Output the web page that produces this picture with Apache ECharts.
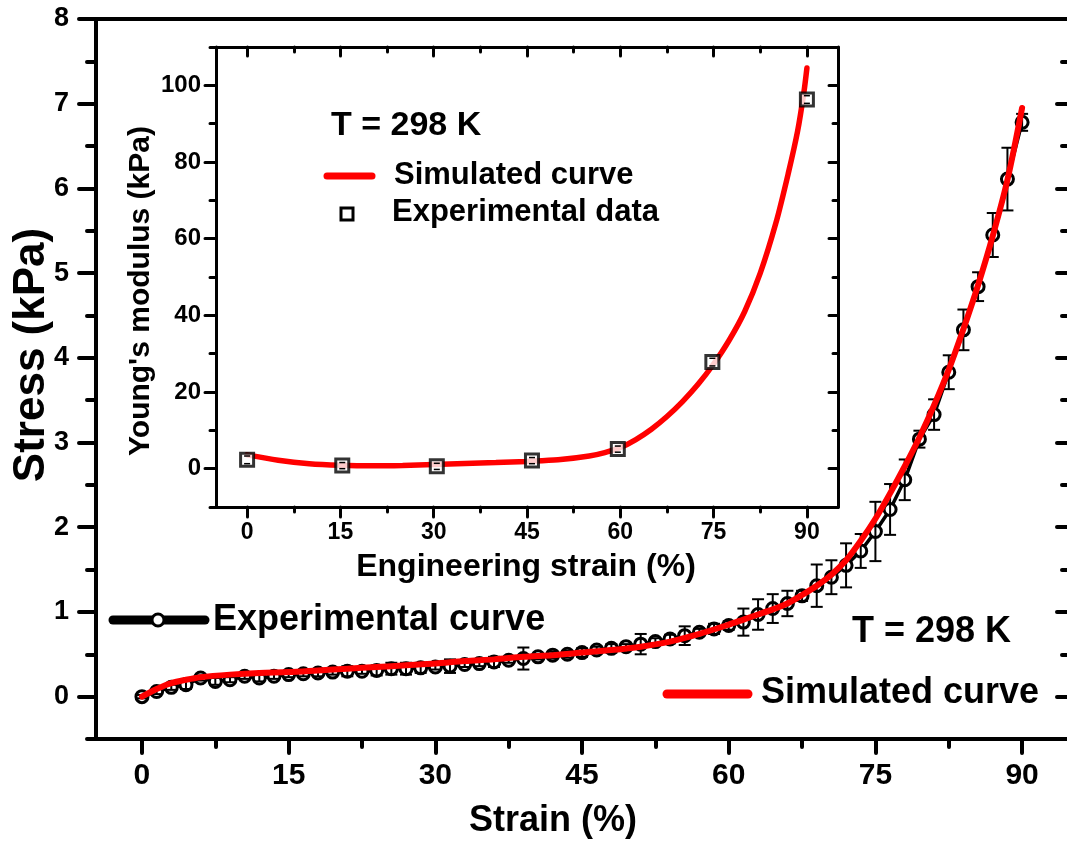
<!DOCTYPE html>
<html>
<head>
<meta charset="utf-8">
<script src="https://cdn.jsdelivr.net/npm/echarts@6/dist/echarts.min.js"></script>
<style>
html,body{margin:0;padding:0;background:#fff;}
#chart{width:1067px;height:843px;}
</style>
</head>
<body>
<div id="chart"></div>
<script>
// ---------- data ----------
// main plot: experimental stress-strain curve
const expStrain = [0,1.5,3,4.5,6,7.5,9,10.5,12,13.5,15,16.5,18,19.5,21,22.5,24,25.5,27,28.5,30,31.5,33,34.5,36,37.5,39,40.5,42,43.5,45,46.5,48,49.5,51,52.5,54,55.5,57,58.5,60,61.5,63,64.5,66,67.5,69,70.5,72,73.5,75,76.5,78,79.5,81,82.5,84,85.5,87,88.5,90];
const expStress = [0.00,0.06,0.11,0.14,0.22,0.18,0.20,0.24,0.22,0.24,0.26,0.27,0.28,0.29,0.30,0.30,0.31,0.33,0.33,0.34,0.35,0.36,0.38,0.39,0.41,0.43,0.45,0.47,0.49,0.50,0.52,0.55,0.57,0.59,0.62,0.65,0.68,0.72,0.76,0.80,0.84,0.88,0.97,1.04,1.10,1.19,1.31,1.41,1.55,1.72,1.95,2.21,2.56,3.04,3.33,3.83,4.33,4.84,5.45,6.11,6.78];
const expError = [0.02,0.03,0.03,0.05,0.03,0.04,0.03,0.03,0.04,0.03,0.03,0.03,0.04,0.03,0.06,0.03,0.06,0.07,0.07,0.06,0.03,0.08,0.03,0.03,0.06,0.03,0.13,0.03,0.04,0.04,0.05,0.04,0.05,0.03,0.12,0.04,0.05,0.11,0.04,0.06,0.05,0.16,0.18,0.17,0.15,0.06,0.25,0.20,0.26,0.20,0.35,0.30,0.24,0.10,0.18,0.20,0.24,0.17,0.26,0.37,0.10];
// main plot: simulated curve
const simStrain = [0,1.5,3,4.5,6,9,12,15,18,21,24,27,30,33,36,39,42,45,48,51,54,57,60,61.5,63,64.5,66,67.5,69,70.5,72,73.5,75,76.5,78,79.5,81,82.5,84,85.5,87,88.5,90];
const simStress = [0,0.09,0.16,0.20,0.23,0.26,0.28,0.29,0.31,0.33,0.35,0.37,0.39,0.42,0.44,0.47,0.49,0.52,0.55,0.59,0.65,0.74,0.85,0.91,0.97,1.03,1.10,1.20,1.31,1.44,1.61,1.84,2.10,2.40,2.72,3.06,3.44,3.86,4.34,4.86,5.44,6.10,6.95];
// inset: Young's modulus
const insetStrain = [0,15.3,30.5,45.8,59.6,74.8,90];
const insetModulus = [2.3,0.8,0.6,2.1,5.1,27.8,96.3];
const insetError = [1.0,0.8,0.8,0.8,0.8,1.0,1.0];
const insetSimStrain = [0,5,10,15,20,25,30,35,40,45,50,55,57.5,60,62.5,65,67.5,70,72.5,75,77.5,80,82.5,85,87,88.5,89.5,90];
const insetSimModulus = [3.6,2.2,1.3,0.9,0.75,0.85,1.1,1.35,1.6,1.9,2.3,3.3,4.2,5.5,7.6,10.3,13.6,17.5,22,27.3,33.5,41,51,64,77,88,98,104.5];
// tick values
const mainXTicks = [0,15,30,45,60,75,90];
const mainXMinor = [7.5,22.5,37.5,52.5,67.5,82.5];
const mainYTicks = [0,1,2,3,4,5,6,7,8];
const mainYMinor = [-0.5,0.5,1.5,2.5,3.5,4.5,5.5,6.5,7.5];
const insetXTicks = [0,15,30,45,60,75,90];
const insetXMinor = [7.5,22.5,37.5,52.5,67.5,82.5];
const insetYTicks = [0,20,40,60,80,100];
const insetYMinor = [-10,10,30,50,70,90,110];

// ---------- chart ----------
const FONT = '"Liberation Sans", Arial, Helvetica, sans-serif';
const chart = echarts.init(document.getElementById('chart'), null, {renderer:'canvas'});

function pairs(xs, ys){ return xs.map((x,i)=>[x, ys[i]]); }
function triples(xs, ys, es){ return xs.map((x,i)=>[x, ys[i], es[i]]); }

function errRender(hw, lw){
  return function(params, api){
    const x = api.value(0), y = api.value(1), e = api.value(2);
    const t = api.coord([x, y + e]);
    const b = api.coord([x, y - e]);
    const st = {stroke:'#000', lineWidth:lw, fill:null};
    return {type:'group', children:[
      {type:'line', shape:{x1:t[0], y1:t[1], x2:b[0], y2:b[1]}, style:st},
      {type:'line', shape:{x1:t[0]-hw, y1:t[1], x2:t[0]+hw, y2:t[1]}, style:st},
      {type:'line', shape:{x1:b[0]-hw, y1:b[1], x2:b[0]+hw, y2:b[1]}, style:st}
    ]};
  };
}
function capRender(hw, lw){
  return function(params, api){
    const x = api.value(0), y = api.value(1), e = api.value(2);
    const t = api.coord([x, y + e]);
    const b = api.coord([x, y - e]);
    const st = {stroke:'#000', lineWidth:lw, fill:null};
    return {type:'group', children:[
      {type:'line', shape:{x1:t[0]-hw, y1:t[1], x2:t[0]+hw, y2:t[1]}, style:st},
      {type:'line', shape:{x1:b[0]-hw, y1:b[1], x2:b[0]+hw, y2:b[1]}, style:st}
    ]};
  };
}

function valAxis(o){
  return {
    type:'value', min:o.min, max:o.max, gridIndex:o.grid, position:o.pos,
    splitLine:{show:false},
    axisLine:{show:!!o.line, onZero:false, lineStyle:{color:'#000', width:o.lw||4, cap:'round'}},
    axisTick:{show:!!o.ticks, inside:!!o.inside, length:o.len||10, customValues:o.ticks||[],
              lineStyle:{color:'#000', width:o.tw||3, cap:'round'}},
    axisLabel:{show:!!o.labels, customValues:o.labels||[], margin:o.margin||10,
               color:'#000', fontFamily:FONT, fontWeight:'bold', fontSize:o.fs||20},
    silent:true
  };
}

const grids = [
  {left:96, top:19, right:-4, bottom:104, outerBoundsMode:'none', containLabel:false},
  {left:216, top:47, right:229, bottom:336, outerBoundsMode:'none', containLabel:false}
];

const xAxes = [
  // main
  valAxis({grid:0,pos:'bottom',min:-4.7,max:95,line:true,lw:4,ticks:mainXTicks,len:14,tw:4,labels:mainXTicks,margin:22,fs:30}),
  valAxis({grid:0,pos:'bottom',min:-4.7,max:95,ticks:mainXMinor,len:8,tw:4}),
  valAxis({grid:0,pos:'top',min:-4.7,max:95,line:true,lw:4}),
  // inset
  valAxis({grid:1,pos:'bottom',min:-5,max:95,line:true,lw:3,ticks:insetXTicks,len:10,tw:3,labels:insetXTicks,margin:14,fs:23}),
  valAxis({grid:1,pos:'bottom',min:-5,max:95,ticks:insetXMinor,len:5,tw:3}),
  valAxis({grid:1,pos:'top',min:-5,max:95,line:true,lw:3,ticks:insetXTicks,inside:true,len:9,tw:3}),
  valAxis({grid:1,pos:'top',min:-5,max:95,ticks:insetXMinor,inside:true,len:5,tw:3})
];
const yAxes = [
  // main
  valAxis({grid:0,pos:'left',min:-0.5,max:8,line:true,lw:4,ticks:mainYTicks,len:17,tw:4,labels:mainYTicks,margin:27,fs:27}),
  valAxis({grid:0,pos:'left',min:-0.5,max:8,ticks:mainYMinor,len:9,tw:4}),
  valAxis({grid:0,pos:'right',min:-0.5,max:8,line:true,lw:4,ticks:mainYTicks,inside:true,len:14,tw:4}),
  valAxis({grid:0,pos:'right',min:-0.5,max:8,ticks:mainYMinor,inside:true,len:9,tw:4}),
  // inset
  valAxis({grid:1,pos:'left',min:-10,max:110,line:true,lw:3,ticks:insetYTicks,len:11,tw:3,labels:insetYTicks,margin:15,fs:24}),
  valAxis({grid:1,pos:'left',min:-10,max:110,ticks:insetYMinor,len:6,tw:3}),
  valAxis({grid:1,pos:'right',min:-10,max:110,line:true,lw:3,ticks:insetYTicks,inside:true,len:9,tw:3}),
  valAxis({grid:1,pos:'right',min:-10,max:110,ticks:insetYMinor,inside:true,len:5,tw:3})
];

const series = [
  {
    name:'Experimental curve', type:'line', xAxisIndex:0, yAxisIndex:0, z:2,
    data:pairs(expStrain, expStress), symbol:'circle', symbolSize:12, showSymbol:true,
    lineStyle:{color:'#000', width:3.5},
    itemStyle:{color:'#fff', borderColor:'#000', borderWidth:3},
    animation:false, silent:true
  },
  {
    type:'custom', xAxisIndex:0, yAxisIndex:0, z:3,
    data:triples(expStrain, expStress, expError),
    encode:{x:0, y:1}, renderItem:errRender(6, 2), animation:false, silent:true
  },
  {
    name:'Simulated curve', type:'line', xAxisIndex:0, yAxisIndex:0, z:5,
    data:pairs(simStrain, simStress), symbol:'none', smooth:0.3,
    lineStyle:{color:'#ff0000', width:6, cap:'round'},
    animation:false, silent:true
  },
  {
    name:'Simulated curve (inset)', type:'line', xAxisIndex:3, yAxisIndex:4, z:2,
    data:pairs(insetSimStrain, insetSimModulus), symbol:'none', smooth:0.3,
    lineStyle:{color:'#ff0000', width:5.5, cap:'round'},
    animation:false, silent:true
  },
  {
    name:'Experimental data', type:'scatter', xAxisIndex:3, yAxisIndex:4, z:3,
    data:pairs(insetStrain, insetModulus), symbol:'rect', symbolSize:13,
    itemStyle:{color:'#fff', borderColor:'#000', borderWidth:3},
    animation:false, silent:true
  },
  {
    type:'custom', xAxisIndex:3, yAxisIndex:4, z:4,
    data:triples(insetStrain, insetModulus, insetError),
    encode:{x:0, y:1}, renderItem:capRender(3, 1.5), animation:false, silent:true
  }
];

function txt(text, x, y, size, opts){
  opts = opts || {};
  return {
    type:'text', x:x, y:y, rotation:opts.rot||0, z:100,
    style:{text:text, font:'bold '+size+'px '+FONT, fill:'#000',
           align:opts.align||'left', textAlign:opts.align||'left',
           verticalAlign:'middle', textVerticalAlign:'middle'}
  };
}

const graphic = [
  // axis titles
  txt('Stress (kPa)', 32, 355, 44, {rot:Math.PI/2, align:'center'}),
  txt('Strain (%)', 553, 821, 36, {align:'center'}),
  txt("Young's modulus (kPa)", 141, 291, 30, {rot:Math.PI/2, align:'center'}),
  txt('Engineering strain (%)', 526, 567, 32, {align:'center'}),
  // main legend
  {type:'line', z:100, shape:{x1:113, y1:620, x2:205, y2:620}, style:{stroke:'#000', lineWidth:9, lineCap:'round'}},
  {type:'circle', z:101, shape:{cx:158, cy:620, r:6}, style:{fill:'#fff', stroke:'#000', lineWidth:3}},
  txt('Experimental curve', 213, 620, 36),
  txt('T = 298 K', 852, 632, 36),
  {type:'line', z:100, shape:{x1:667, y1:694, x2:748, y2:694}, style:{stroke:'#ff0000', lineWidth:9, lineCap:'round'}},
  txt('Simulated curve', 761, 693, 36),
  // inset legend
  txt('T = 298 K', 331, 126, 34),
  {type:'line', z:100, shape:{x1:327, y1:176, x2:372, y2:176}, style:{stroke:'#ff0000', lineWidth:7, lineCap:'round'}},
  txt('Simulated curve', 394, 175, 31),
  {type:'rect', z:100, shape:{x:341, y:208, width:12, height:12}, style:{fill:'#fff', stroke:'#000', lineWidth:3}},
  txt('Experimental data', 392, 212, 31)
];

chart.setOption({
  backgroundColor:'#fff',
  animation:false,
  grid:grids,
  xAxis:xAxes,
  yAxis:yAxes,
  series:series,
  graphic:graphic
});
</script>
</body>
</html>
